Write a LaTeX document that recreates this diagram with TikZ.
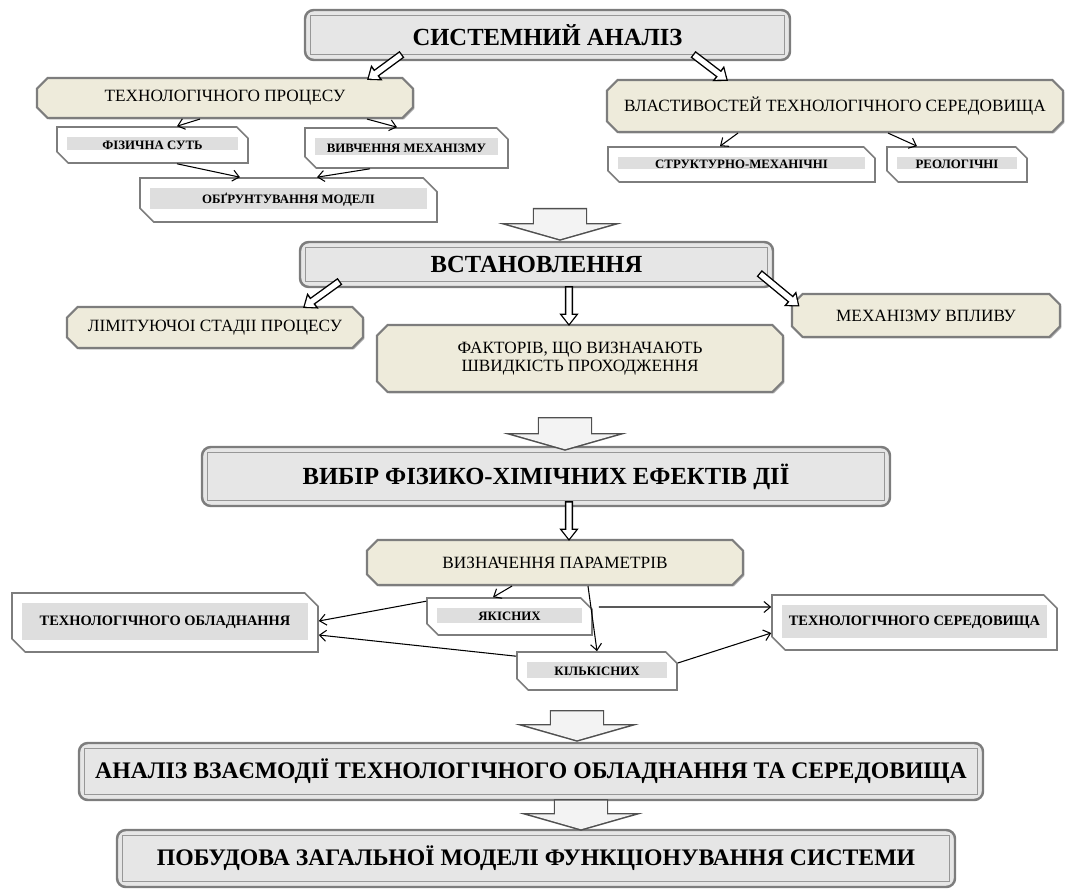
\documentclass[tikz,border=0pt]{standalone}
\usepackage{fontspec}
\setmainfont{Liberation Serif}
\definecolor{boxGray}{RGB}{230,230,230}
\definecolor{boxBorder}{RGB}{125,125,125}
\definecolor{boxBeige}{RGB}{238,235,219}
\definecolor{boxBand}{RGB}{222,222,222}
\definecolor{arrowFill}{RGB}{243,243,243}
\definecolor{arrowLine}{RGB}{80,80,80}
\usetikzlibrary{
    arrows.meta,
    shapes.misc,
    shadows
}
\tikzset{
    mainnode/.style={
        rectangle,
        rounded corners=5pt,
        draw=boxBorder,
        line width=1.4pt,
        fill=boxGray,
        inner sep=0pt,
        font=\fontsize{14}{16}\selectfont\bfseries,
        path picture={
            \draw[boxBorder!80, line width=0.7pt, sharp corners]
                ([shift={(3pt,-3pt)}]path picture bounding box.north west)
                rectangle ([shift={(-3pt,3pt)}]path picture bounding box.south east);
        },
    },
    beigenode/.style={
        chamfered rectangle,
        chamfered rectangle xsep=3pt,
        chamfered rectangle ysep=3pt,
        draw=boxBorder,
        line width=1.2pt,
        fill=boxBeige,
        drop shadow={shadow xshift=0.8pt, shadow yshift=-0.8pt, fill=black!45, opacity=0.6},
        inner sep=0pt,
        align=center,
        font=\fontsize{9.8}{10.4}\selectfont,
    },
    bevelnode/.style={
        chamfered rectangle,
        chamfered rectangle corners={north east, south west},
        chamfered rectangle xsep=4pt,
        chamfered rectangle ysep=4pt,
        draw=boxBorder,
        line width=0.9pt,
        fill=white,
        inner sep=0pt,
        font=\fontsize{7.3}{8}\selectfont\bfseries,
        path picture={
            \fill[boxBand]
                ([shift={(2mm,-2mm)}]path picture bounding box.north west)
                rectangle ([shift={(-2mm,2.5mm)}]path picture bounding box.south east);
        },
    },
    bigtext/.style={
        font=\fontsize{8.2}{9}\selectfont\bfseries,
    },
    thinarrow/.style={
        -{Straight Barb[length=1.3mm,width=2.2mm]},
        line width=0.6pt,
    },
    hollowarrow/.style={
        draw=black,
        line width=4.6pt,
        -{Triangle[length=7pt,width=10.5pt]},
        postaction={
            draw=white,
            line width=3pt,
            shorten <=0.8pt,
            shorten >=1.2pt,
            -{Triangle[length=4.9pt,width=7.3pt]},
        },
    },
    blockarrow/.style={
        draw=arrowLine,
        line width=31pt,
        -{Triangle[length=10pt,width=70pt]},
        postaction={
            draw=arrowFill,
            line width=29.4pt,
            shorten <=0.8pt,
            shorten >=0.9pt,
            -{Triangle[length=8.4pt,width=58.6pt]},
        },
    },
}

\begin{document}
\begin{tikzpicture}[x=0.2mm, y=-0.2mm]
    \useasboundingbox (0,0) rectangle (1078,889);

    % system analysis
    \node[mainnode, minimum width=97mm, minimum height=10mm] (s1_sys) at (547.5,35) {СИСТЕМНИЙ АНАЛІЗ};
    \node[beigenode, minimum width=75.2mm, minimum height=8mm] (s1_proc) at (225,98) {ТЕХНОЛОГІЧНОГО ПРОЦЕСУ};
    \node[beigenode, minimum width=91.2mm, minimum height=10.4mm] (s1_prop) at (835,106) {ВЛАСТИВОСТЕЙ ТЕХНОЛОГІЧНОГО СЕРЕДОВИЩА};
    \node[bevelnode, minimum width=38.2mm, minimum height=7.2mm] (s1_phys) at (152.5,145) {ФІЗИЧНА СУТЬ};
    \node[bevelnode, minimum width=40.6mm, minimum height=8mm] (s1_mech) at (406.5,148) {ВИВЧЕННЯ МЕХАНІЗМУ};
    \node[bevelnode, minimum width=59.4mm, minimum height=8.8mm] (s1_model) at (288.5,200) {ОБҐРУНТУВАННЯ МОДЕЛІ};
    \node[bevelnode, minimum width=53.4mm, minimum height=7mm] (s1_struct) at (741.5,164.5) {СТРУКТУРНО-МЕХАНІЧНІ};
    \node[bevelnode, minimum width=28mm, minimum height=7mm] (s1_rheo) at (957,164.5) {РЕОЛОГІЧНІ};

    % establishing
    \node[mainnode, minimum width=94.6mm, minimum height=9mm] (s2_est) at (536.5,264.5) {ВСТАНОВЛЕННЯ};
    \node[beigenode, minimum width=59.2mm, minimum height=8.2mm] (s2_limit) at (215,327.5) {ЛІМІТУЮЧОІ СТАДІІ ПРОЦЕСУ};
    \node[beigenode, minimum width=81.2mm, minimum height=13.4mm] (s2_factors) at (580,358.5) {ФАКТОРІВ, ЩО ВИЗНАЧАЮТЬ\\ШВИДКІСТЬ ПРОХОДЖЕННЯ};
    \node[beigenode, minimum width=53.6mm, minimum height=8.6mm] (s2_infl) at (926,315.5) {МЕХАНІЗМУ ВПЛИВУ};

    % effects and parameters
    \node[mainnode, minimum width=137.6mm, minimum height=11.8mm] (s3_choice) at (546,476.5) {ВИБІР ФІЗИКО-ХІМІЧНИХ ЕФЕКТІВ ДІЇ};
    \node[beigenode, minimum width=75.2mm, minimum height=9mm] (s3_params) at (555,562.5) {ВИЗНАЧЕННЯ ПАРАМЕТРІВ};
    \node[bevelnode, minimum width=33mm, minimum height=7.4mm] (s3_qual) at (509.5,616.5) {ЯКІСНИХ};
    \node[bevelnode, minimum width=32mm, minimum height=7.6mm] (s3_quant) at (597,671) {КІЛЬКІСНИХ};
    \node[bevelnode, bigtext, minimum width=61.2mm, minimum height=11.8mm] (s3_equip) at (165,622.5) {ТЕХНОЛОГІЧНОГО ОБЛАДНАННЯ};
    \node[bevelnode, bigtext, minimum width=57mm, minimum height=11mm] (s3_medium) at (914.5,622.5) {ТЕХНОЛОГІЧНОГО СЕРЕДОВИЩА};

    % final stages
    \node[mainnode, font=\fontsize{13.5}{16}\selectfont\bfseries, minimum width=180.8mm, minimum height=11.4mm] (s4_inter) at (531,771.5) {АНАЛІЗ ВЗАЄМОДІЇ ТЕХНОЛОГІЧНОГО ОБЛАДНАННЯ ТА СЕРЕДОВИЩА};
    \node[mainnode, font=\fontsize{13.5}{16}\selectfont\bfseries, minimum width=167.6mm, minimum height=11.4mm] (s4_build) at (536,858.5) {ПОБУДОВА ЗАГАЛЬНОЇ МОДЕЛІ ФУНКЦІОНУВАННЯ СИСТЕМИ};

    % thin connectors
    \draw[thinarrow] ([xshift=-5mm]s1_proc.south) -- ([xshift=4.9mm]s1_phys.north);
    \draw[thinarrow] ([xshift=28.4mm]s1_proc.south) -- ([xshift=-1.9mm]s1_mech.north);
    \draw[thinarrow] ([xshift=4.9mm]s1_phys.south) -- ([xshift=-9.7mm]s1_model.north);
    \draw[thinarrow] ([xshift=-7.3mm]s1_mech.south) -- ([xshift=5.7mm]s1_model.north);
    \draw[thinarrow] ([xshift=-19.4mm]s1_prop.south) -- ([xshift=-4.3mm]s1_struct.north);
    \draw[thinarrow] ([xshift=10.6mm]s1_prop.south) -- ([xshift=-8mm]s1_rheo.north);
    \draw[thinarrow] ([xshift=-8.6mm]s3_params.south) -- ([xshift=-3.3mm]s3_qual.north);
    \draw[thinarrow] ([xshift=6.6mm]s3_params.south) -- (s3_quant.north);
    \draw[thinarrow] ([yshift=-0.8mm]s3_qual.north west) -- ([yshift=0.3mm]s3_equip.east);
    \draw[thinarrow] ([yshift=-1mm]s3_quant.north west) -- ([yshift=-2.5mm]s3_equip.east);
    \draw[thinarrow] ([shift={(1.2mm,1.9mm)}]s3_qual.east) -- ([yshift=3.1mm]s3_medium.west);
    \draw[thinarrow] ([yshift=1.6mm]s3_quant.east) -- ([yshift=-2.1mm]s3_medium.west);

    % hollow arrows
    \draw[hollowarrow] ([shift={(-29.1mm,1.4mm)}]s1_sys.south) -- ([shift={(28.4mm,-0.6mm)}]s1_proc.north);
    \draw[hollowarrow] ([shift={(29.1mm,1.4mm)}]s1_sys.south) -- ([shift={(-21.4mm,-0.4mm)}]s1_prop.north);
    \draw[hollowarrow] ([shift={(-39.3mm,1.4mm)}]s2_est.south) -- ([shift={(17.6mm,-0.4mm)}]s2_limit.north);
    \draw[hollowarrow] ([shift={(6.5mm,0.4mm)}]s2_est.south) -- ([shift={(-2.2mm,-0.4mm)}]s2_factors.north);
    \draw[hollowarrow] ([shift={(-3mm,3mm)}]s2_est.south east) -- ([shift={(0.6mm,-1.6mm)}]s2_infl.north west);
    \draw[hollowarrow] ([shift={(4.6mm,1.2mm)}]s3_choice.south) -- ([shift={(2.8mm,-0.4mm)}]s3_params.north);

    % block arrows
    \coordinate (gap1) at (560,208);
    \coordinate (gap2) at (565,417);
    \coordinate (gap3) at (577,710);
    \draw[blockarrow] (gap1) -- ([xshift=4.7mm]s2_est.north);
    \draw[blockarrow] (gap2) -- ([shift={(3.8mm,-1mm)}]s3_choice.north);
    \draw[blockarrow] (gap3) -- ([xshift=9.2mm]s4_inter.north);
    \draw[blockarrow] ([shift={(10mm,0.4mm)}]s4_inter.south) -- ([shift={(9mm,-0.4mm)}]s4_build.north);
\end{tikzpicture}
\end{document}
